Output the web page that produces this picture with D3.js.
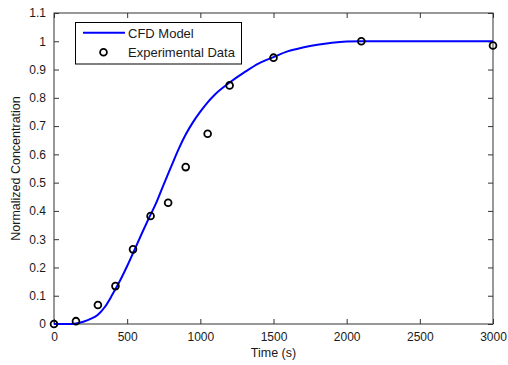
<!DOCTYPE html>
<html><head><meta charset="utf-8">
<script src="https://cdn.jsdelivr.net/npm/d3@7"></script>
<style>body{margin:0;background:#fff}svg{display:block}text{font-family:Arial,"Liberation Sans",sans-serif;fill:#1a1a1a}</style>
</head><body><svg id="c" width="508" height="365"></svg>
<script>
// CFD model curve (time s, normalized concentration)
const modelTime = [0,100,150,200,250,300,350,400,450,500,550,600,650,700,750,800,850,900,950,1000,1050,1100,1200,1300,1400,1500,1600,1700,1800,1900,2000,2100,3000];
const modelValue = [0,0,0.002,0.008,0.018,0.033,0.062,0.105,0.152,0.205,0.262,0.32,0.376,0.43,0.494,0.556,0.617,0.67,0.714,0.751,0.784,0.812,0.854,0.89,0.922,0.944,0.965,0.978,0.988,0.995,0.999,1.0,1.0];
// Experimental data
const expTime = [0,150,300,420,540,660,780,900,1050,1200,1500,2100,3000];
const expValue = [0,0.01,0.067,0.134,0.264,0.382,0.429,0.555,0.673,0.844,0.942,1.0,0.985];
const xTicks = [0,500,1000,1500,2000,2500,3000];
const yTicks = [0,0.1,0.2,0.3,0.4,0.5,0.6,0.7,0.8,0.9,1,1.1];
const legendLabels = ["CFD Model","Experimental Data"];

const svg = d3.select("#c");
const L=54,R=493,T=13,B=324;
const x = d3.scaleLinear().domain([0,3000]).range([L,R]);
const y = d3.scaleLinear().domain([0,1.1]).range([B,T]);
const axisColor="#333";

// frame
svg.append("rect").attr("x",L).attr("y",T).attr("width",R-L).attr("height",B-T)
  .attr("fill","#fff").attr("stroke",axisColor).attr("stroke-width",1);

function styleAxis(g){g.select(".domain").remove();g.selectAll("line").attr("stroke",axisColor);g.selectAll("text").attr("fill","#1a1a1a").attr("font-size","12px").attr("font-family","Arial, 'Liberation Sans', sans-serif");}
const fmt = d=>String(+d.toFixed(1));
svg.append("g").attr("transform",`translate(0,${B})`)
  .call(d3.axisBottom(x).tickValues(xTicks).tickSizeInner(-5).tickSizeOuter(0).tickPadding(8).tickFormat(d3.format("d"))).call(styleAxis);
svg.append("g").attr("transform",`translate(0,${T})`)
  .call(d3.axisTop(x).tickValues(xTicks).tickSizeInner(-5).tickSizeOuter(0).tickFormat("")).call(styleAxis);
svg.append("g").attr("transform",`translate(${L},0)`)
  .call(d3.axisLeft(y).tickValues(yTicks).tickSizeInner(-5).tickSizeOuter(0).tickPadding(8).tickFormat(fmt)).call(styleAxis);
svg.append("g").attr("transform",`translate(${R},0)`)
  .call(d3.axisRight(y).tickValues(yTicks).tickSizeInner(-5).tickSizeOuter(0).tickFormat("")).call(styleAxis);

// model line
const modelData = modelTime.map((t,i)=>({t,v:modelValue[i]}));
svg.append("path").datum(modelData)
  .attr("d",d3.line().x(d=>x(d.t)).y(d=>y(d.v)).curve(d3.curveMonotoneX))
  .attr("fill","none").attr("stroke","#0000ff").attr("stroke-width",2);

// experimental markers
const expData = expTime.map((t,i)=>({t,v:expValue[i]}));
svg.append("g").selectAll("circle").data(expData).join("circle")
  .attr("cx",d=>x(d.t)).attr("cy",d=>y(d.v)).attr("r",3.4)
  .attr("fill","none").attr("stroke","#000").attr("stroke-width",1.8);

// axis labels
svg.append("text").attr("x",(L+R)/2).attr("y",357).attr("text-anchor","middle").attr("font-size","12.5px").text("Time (s)");
svg.append("text").attr("transform",`translate(20,${(T+B)/2}) rotate(-90)`).attr("text-anchor","middle").attr("font-size","12.5px").text("Normalized Concentration");

// legend
const lg = svg.append("g");
lg.append("rect").attr("x",75.5).attr("y",22.5).attr("width",166).attr("height",41.5).attr("fill","#fff").attr("stroke","#000").attr("stroke-width",1);
lg.append("line").attr("x1",83).attr("x2",125).attr("y1",32.7).attr("y2",32.7).attr("stroke","#0000ff").attr("stroke-width",2);
lg.append("circle").attr("cx",103.5).attr("cy",52.3).attr("r",3.4).attr("fill","none").attr("stroke","#000").attr("stroke-width",1.8);
lg.selectAll("text.l").data(legendLabels).join("text").attr("class","l")
  .attr("x",128).attr("y",(d,i)=>37.5+i*19.5).attr("font-size","13px").text(d=>d);
</script></body></html>
